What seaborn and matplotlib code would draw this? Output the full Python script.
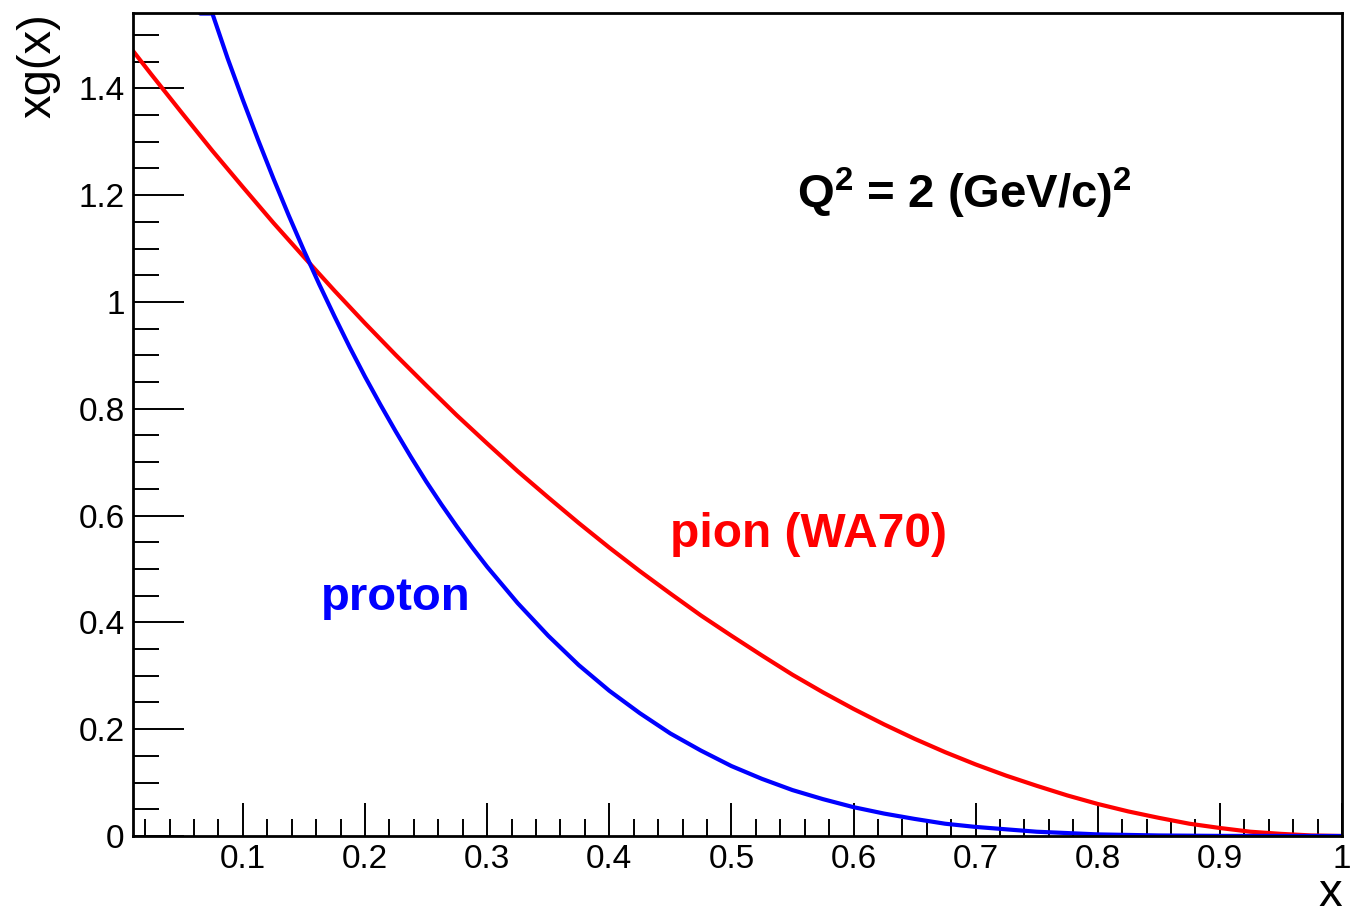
import numpy as np
import pandas as pd
import seaborn as sns
import matplotlib
matplotlib.use("Agg")
import matplotlib.pyplot as plt
from matplotlib.ticker import MultipleLocator, FuncFormatter

# ---- data ----
pion_x = [0.010, 0.025, 0.050, 0.075, 0.100, 0.125, 0.150, 0.175, 0.200, 0.225,
          0.250, 0.275, 0.300, 0.325, 0.350, 0.375, 0.400, 0.425, 0.450, 0.475,
          0.500, 0.525, 0.550, 0.575, 0.600, 0.625, 0.650, 0.675, 0.700, 0.725,
          0.750, 0.775, 0.800, 0.825, 0.850, 0.875, 0.900, 0.925, 0.950, 0.975, 1.000]
pion_y = [1.470, 1.426, 1.354, 1.283, 1.215, 1.148, 1.084, 1.021, 0.960, 0.901,
          0.844, 0.788, 0.735, 0.683, 0.634, 0.586, 0.540, 0.496, 0.454, 0.413,
          0.375, 0.338, 0.302, 0.269, 0.238, 0.209, 0.182, 0.157, 0.134, 0.113,
          0.094, 0.076, 0.060, 0.046, 0.034, 0.023, 0.015, 0.008, 0.004, 0.001, 0.000]

proton_x = [0.065, 0.075, 0.0875, 0.100, 0.1125, 0.125, 0.1375, 0.150, 0.1625, 0.175,
            0.1875, 0.200, 0.2125, 0.225, 0.2375, 0.250, 0.2625, 0.275, 0.2875, 0.300,
            0.325, 0.350, 0.375, 0.400, 0.425, 0.450, 0.475, 0.500, 0.525, 0.550,
            0.575, 0.600, 0.625, 0.650, 0.675, 0.700, 0.750, 0.800, 0.850, 0.900, 1.000]
proton_y = [1.540, 1.540, 1.456, 1.378, 1.303, 1.231, 1.162, 1.096, 1.033, 0.973,
            0.915, 0.860, 0.808, 0.758, 0.710, 0.664, 0.621, 0.580, 0.541, 0.504,
            0.436, 0.375, 0.320, 0.272, 0.230, 0.192, 0.160, 0.131, 0.107, 0.086,
            0.069, 0.054, 0.042, 0.032, 0.023, 0.017, 0.008, 0.003, 0.001, 0.0002, 0.000]

x_ticks = [0.1, 0.2, 0.3, 0.4, 0.5, 0.6, 0.7, 0.8, 0.9, 1.0]
y_ticks = [0.0, 0.2, 0.4, 0.6, 0.8, 1.0, 1.2, 1.4]

df = pd.concat([
    pd.DataFrame({"x": pion_x, "xg": pion_y, "hadron": "pion (WA70)"}),
    pd.DataFrame({"x": proton_x, "xg": proton_y, "hadron": "proton"}),
], ignore_index=True)

sns.set_style("ticks")
plt.rcParams["font.family"] = ["Liberation Sans", "DejaVu Sans"]
plt.rcParams["mathtext.fontset"] = "custom"
plt.rcParams["mathtext.rm"] = "Liberation Sans"
plt.rcParams["mathtext.bf"] = "Liberation Sans:bold"
plt.rcParams["text.color"] = "black"
plt.rcParams["axes.labelcolor"] = "black"
plt.rcParams["xtick.color"] = "black"
plt.rcParams["ytick.color"] = "black"

fig = plt.figure(figsize=(13.72, 9.18), dpi=100)
ax = fig.add_axes([133 / 1372, 1 - 836 / 918, (1342 - 133) / 1372, (836 - 13) / 918])

sns.lineplot(data=df, x="x", y="xg", hue="hadron",
             palette={"pion (WA70)": "#ff0000", "proton": "#0000ff"},
             linewidth=3.0, legend=False, ax=ax, sort=False, estimator=None)

ax.set_xlim(0.01, 1.0)
ax.set_ylim(0.0, 1.541)

ax.set_xticks(x_ticks)
ax.set_yticks(y_ticks)
ax.xaxis.set_minor_locator(MultipleLocator(0.02))
ax.yaxis.set_minor_locator(MultipleLocator(0.05))
fmt = FuncFormatter(lambda v, p: f"{v:g}")
ax.xaxis.set_major_formatter(fmt)
ax.yaxis.set_major_formatter(fmt)

ax.tick_params(axis="both", which="both", direction="in", top=False, right=False,
               colors="black", width=1.4)
ax.tick_params(axis="x", which="major", length=24, labelsize=24, pad=6)
ax.tick_params(axis="x", which="minor", length=12)
ax.tick_params(axis="y", which="major", length=37, labelsize=24, pad=6)
ax.tick_params(axis="y", which="minor", length=18.5)

for s in ax.spines.values():
    s.set_visible(True)
    s.set_color("black")
    s.set_linewidth(2.0)

ax.set_xlabel("x", fontsize=34, loc="right", color="black")
ax.xaxis.label.set_va("bottom")
ax.xaxis.set_label_coords(1.0, -(916 - 836) / 823)
ax.set_ylabel("xg(x)", fontsize=34, loc="top", color="black")
ax.yaxis.label.set_va("baseline")
ax.yaxis.set_label_coords(-(133 - 50) / 1209, 1.0)

ax.text(0.164, 0.423, "proton", color="#0000ff", fontsize=34, fontweight="bold",
        ha="left", va="baseline")
ax.text(0.450, 0.541, "pion (WA70)", color="#ff0000", fontsize=34.5, fontweight="bold",
        ha="left", va="baseline")
ax.text(0.554, 1.176, r"$\mathbf{Q^{2}}$ = 2 (GeV/c)$^{\mathbf{2}}$", color="black",
        fontsize=34, fontweight="bold", ha="left", va="baseline")

fig.savefig("out.png", dpi=100)
